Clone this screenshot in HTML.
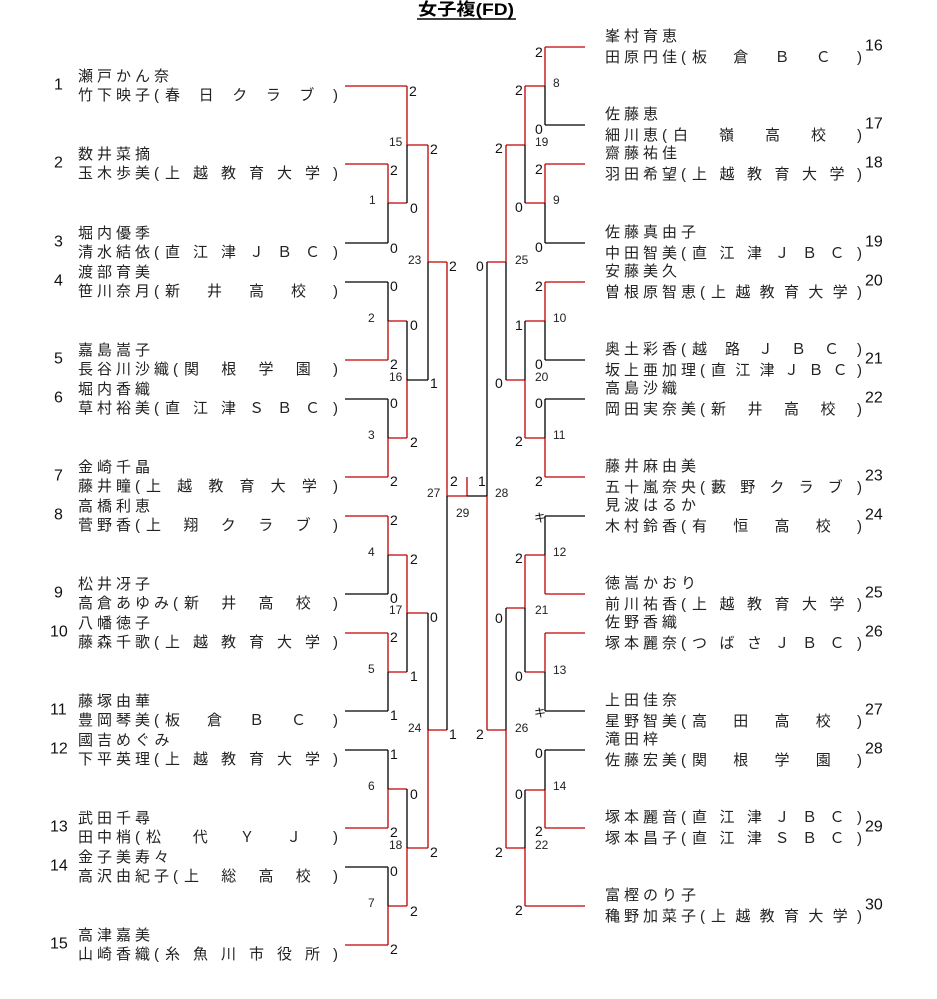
<!DOCTYPE html>
<html><head><meta charset="utf-8"><style>
html,body{margin:0;padding:0;background:#fff;}
svg{display:block;}
.n{font-family:"Liberation Sans","Noto Sans CJK JP",sans-serif;font-size:15px;fill:#222;letter-spacing:4px;}
.c{font-family:"Liberation Sans","Noto Sans CJK JP",sans-serif;font-size:15px;fill:#222;}
.s{font-family:"Liberation Sans","Noto Sans CJK JP",sans-serif;font-size:14px;fill:#111;dominant-baseline:central;}
.m{font-family:"Liberation Sans",sans-serif;font-size:12px;fill:#222;dominant-baseline:central;}
.p{font-family:"Liberation Sans",sans-serif;font-size:16px;fill:#111;dominant-baseline:central;}
.r{stroke:#c00000;stroke-width:1.3;fill:none;}
.k{stroke:#000;stroke-width:1.3;fill:none;}
</style></head><body>
<svg width="937" height="999" viewBox="0 0 937 999" xmlns="http://www.w3.org/2000/svg">
<text x="418" y="15" textLength="96" lengthAdjust="spacingAndGlyphs" style="font-family:'Liberation Sans','Noto Sans CJK JP',sans-serif;font-size:17px;font-weight:bold;fill:#000">女子複(FD)</text>
<line x1="417" y1="19" x2="516" y2="19" stroke="#000" stroke-width="1.5"/>

<!-- LEFT lines -->
<path class="r" d="M345 86H407M345 164H388M345 360H388M345 477H388M345 516H388M345 633H388M345 828H388M345 945H388"/>
<path class="k" d="M345 243H388M345 282H388M345 399H388M345 594H388M345 711H388M345 750H388M345 867H388"/>
<path class="r" d="M388 164V203M388 203H407M407 86V145M407 145H428M388 321V360M388 321H407M388 438V477M388 438H407M407 380V438M428 145V262M428 262H447
M388 516V555M388 555H407M388 633V672M388 672H407M407 555V613M407 613H428M388 789V828M388 789H407M388 906V945M388 906H407M407 848V906M407 848H428M428 730V848M428 730H447
M447 262V496M447 496H467M467 477V496"/>
<path class="k" d="M388 203V243M407 145V203M388 282V321M388 399V438M407 321V380M407 380H428M428 262V380
M388 555V594M388 672V711M407 613V672M388 750V789M388 867V906M407 789V848M428 613V730M447 496V730M467 496H487"/>

<!-- RIGHT lines -->
<path class="r" d="M545 47H585M545 164H585M545 282H585M545 477H585M545 594H585M545 633H585M545 828H585M525 906H585"/>
<path class="k" d="M545 125H585M545 243H585M545 360H585M545 399H585M545 516H585M545 711H585M545 750H585"/>
<path class="r" d="M545 47V86M525 86H545M545 164V203M525 203H545M525 86V145M506 145H525M545 282V321M525 321H545M545 438V477M525 438H545M525 380V438M506 380H525M506 145V262M487 262H506
M545 555V594M525 555H545M545 633V672M525 672H545M525 555V608M506 608H525M545 790V828M525 790H545M525 848V906M506 848H525M506 730V848M487 730H506M487 496V730"/>
<path class="k" d="M545 86V125M545 203V243M525 145V203M545 321V360M545 399V438M525 321V380M506 262V380
M545 516V555M545 672V711M525 608V672M545 750V790M525 790V848M506 608V730M487 262V496"/>

<!-- LEFT names -->
<g>
<text class="p" x="54" y="85">1</text>
<text class="n" x="78" y="81">瀬戸かん奈</text><text class="n" x="78" y="100">竹下映子(</text><text class="c" x="165" y="100" textLength="173" lengthAdjust="spacing">春日クラブ)</text>
<text class="p" x="54" y="163">2</text>
<text class="n" x="78" y="159">数井菜摘</text><text class="n" x="78" y="178">玉木歩美(</text><text class="c" x="165" y="178" textLength="173" lengthAdjust="spacing">上越教育大学)</text>
<text class="p" x="54" y="242">3</text>
<text class="n" x="78" y="238">堀内優季</text><text class="n" x="78" y="257">清水結依(</text><text class="c" x="165" y="257" textLength="173" lengthAdjust="spacing">直江津ＪＢＣ)</text>
<text class="p" x="54" y="281">4</text>
<text class="n" x="78" y="277">渡部育美</text><text class="n" x="78" y="296">笹川奈月(</text><text class="c" x="165" y="296" textLength="173" lengthAdjust="spacing">新井高校)</text>
<text class="p" x="54" y="359">5</text>
<text class="n" x="78" y="355">嘉島嵩子</text><text class="n" x="78" y="374">長谷川沙織(</text><text class="c" x="184" y="374" textLength="154" lengthAdjust="spacing">関根学園)</text>
<text class="p" x="54" y="398">6</text>
<text class="n" x="78" y="394">堀内香織</text><text class="n" x="78" y="413">草村裕美(</text><text class="c" x="165" y="413" textLength="173" lengthAdjust="spacing">直江津ＳＢＣ)</text>
<text class="p" x="54" y="476">7</text>
<text class="n" x="78" y="472">金崎千晶</text><text class="n" x="78" y="491">藤井瞳(</text><text class="c" x="146" y="491" textLength="192" lengthAdjust="spacing">上越教育大学)</text>
<text class="p" x="54" y="515">8</text>
<text class="n" x="78" y="511">高橋利恵</text><text class="n" x="78" y="530">菅野香(</text><text class="c" x="146" y="530" textLength="192" lengthAdjust="spacing">上翔クラブ)</text>
<text class="p" x="54" y="593">9</text>
<text class="n" x="78" y="589">松井冴子</text><text class="n" x="78" y="608">高倉あゆみ(</text><text class="c" x="184" y="608" textLength="154" lengthAdjust="spacing">新井高校)</text>
<text class="p" x="50" y="632">10</text>
<text class="n" x="78" y="628">八幡徳子</text><text class="n" x="78" y="647">藤森千歌(</text><text class="c" x="165" y="647" textLength="173" lengthAdjust="spacing">上越教育大学)</text>
<text class="p" x="50" y="710">11</text>
<text class="n" x="78" y="706">藤塚由華</text><text class="n" x="78" y="725">豊岡琴美(</text><text class="c" x="165" y="725" textLength="173" lengthAdjust="spacing">板倉ＢＣ)</text>
<text class="p" x="50" y="749">12</text>
<text class="n" x="78" y="745">國吉めぐみ</text><text class="n" x="78" y="764">下平英理(</text><text class="c" x="165" y="764" textLength="173" lengthAdjust="spacing">上越教育大学)</text>
<text class="p" x="50" y="827">13</text>
<text class="n" x="78" y="823">武田千尋</text><text class="n" x="78" y="842">田中梢(</text><text class="c" x="146" y="842" textLength="192" lengthAdjust="spacing">松代ＹＪ)</text>
<text class="p" x="50" y="866">14</text>
<text class="n" x="78" y="862">金子美寿々</text><text class="n" x="78" y="881">高沢由紀子(</text><text class="c" x="184" y="881" textLength="154" lengthAdjust="spacing">上総高校)</text>
<text class="p" x="50" y="944">15</text>
<text class="n" x="78" y="940">高津嘉美</text><text class="n" x="78" y="959">山崎香織(</text><text class="c" x="165" y="959" textLength="173" lengthAdjust="spacing">糸魚川市役所)</text>
</g>

<!-- RIGHT names -->
<g>
<text class="n" x="605" y="41">峯村育恵</text><text class="n" x="605" y="62">田原円佳(</text><text class="c" x="692" y="62" textLength="170" lengthAdjust="spacing">板倉ＢＣ)</text><text class="p" x="865" y="46">16</text>
<text class="n" x="605" y="119">佐藤恵</text><text class="n" x="605" y="140">細川恵(</text><text class="c" x="673" y="140" textLength="189" lengthAdjust="spacing">白嶺高校)</text><text class="p" x="865" y="124">17</text>
<text class="n" x="605" y="158">齋藤祐佳</text><text class="n" x="605" y="179">羽田希望(</text><text class="c" x="692" y="179" textLength="170" lengthAdjust="spacing">上越教育大学)</text><text class="p" x="865" y="163">18</text>
<text class="n" x="605" y="237">佐藤真由子</text><text class="n" x="605" y="258">中田智美(</text><text class="c" x="692" y="258" textLength="170" lengthAdjust="spacing">直江津ＪＢＣ)</text><text class="p" x="865" y="242">19</text>
<text class="n" x="605" y="276">安藤美久</text><text class="n" x="605" y="297">曽根原智恵(</text><text class="c" x="711" y="297" textLength="151" lengthAdjust="spacing">上越教育大学)</text><text class="p" x="865" y="281">20</text>
<text class="n" x="605" y="354">奥土彩香(</text><text class="c" x="692" y="354" textLength="170" lengthAdjust="spacing">越路ＪＢＣ)</text><text class="n" x="605" y="375">坂上亜加理(</text><text class="c" x="711" y="375" textLength="151" lengthAdjust="spacing">直江津ＪＢＣ)</text><text class="p" x="865" y="359">21</text>
<text class="n" x="605" y="393">高島沙織</text><text class="n" x="605" y="414">岡田実奈美(</text><text class="c" x="711" y="414" textLength="151" lengthAdjust="spacing">新井高校)</text><text class="p" x="865" y="398">22</text>
<text class="n" x="605" y="471">藤井麻由美</text><text class="n" x="605" y="492">五十嵐奈央(</text><text class="c" x="711" y="492" textLength="151" lengthAdjust="spacing">藪野クラブ)</text><text class="p" x="865" y="476">23</text>
<text class="n" x="605" y="510">見波はるか</text><text class="n" x="605" y="531">木村鈴香(</text><text class="c" x="692" y="531" textLength="170" lengthAdjust="spacing">有恒高校)</text><text class="p" x="865" y="515">24</text>
<text class="n" x="605" y="588">徳嵩かおり</text><text class="n" x="605" y="609">前川祐香(</text><text class="c" x="692" y="609" textLength="170" lengthAdjust="spacing">上越教育大学)</text><text class="p" x="865" y="593">25</text>
<text class="n" x="605" y="627">佐野香織</text><text class="n" x="605" y="648">塚本麗奈(</text><text class="c" x="692" y="648" textLength="170" lengthAdjust="spacing">つばさＪＢＣ)</text><text class="p" x="865" y="632">26</text>
<text class="n" x="605" y="705">上田佳奈</text><text class="n" x="605" y="726">星野智美(</text><text class="c" x="692" y="726" textLength="170" lengthAdjust="spacing">高田高校)</text><text class="p" x="865" y="710">27</text>
<text class="n" x="605" y="744">滝田梓</text><text class="n" x="605" y="765">佐藤宏美(</text><text class="c" x="692" y="765" textLength="170" lengthAdjust="spacing">関根学園)</text><text class="p" x="865" y="749">28</text>
<text class="n" x="605" y="822">塚本麗音(</text><text class="c" x="692" y="822" textLength="170" lengthAdjust="spacing">直江津ＪＢＣ)</text><text class="n" x="605" y="843">塚本昌子(</text><text class="c" x="692" y="843" textLength="170" lengthAdjust="spacing">直江津ＳＢＣ)</text><text class="p" x="865" y="827">29</text>
<text class="n" x="605" y="900">富樫のり子</text><text class="n" x="605" y="921">穐野加菜子(</text><text class="c" x="711" y="921" textLength="151" lengthAdjust="spacing">上越教育大学)</text><text class="p" x="865" y="905">30</text>
</g>

<!-- LEFT scores / match numbers -->
<g>
<text class="s" x="409" y="91">2</text>
<text class="m" x="389" y="142">15</text>
<text class="s" x="430" y="149">2</text>
<text class="s" x="390" y="170">2</text>
<text class="m" x="369" y="200">1</text>
<text class="s" x="410" y="208">0</text>
<text class="s" x="390" y="248">0</text>
<text class="m" x="408" y="260">23</text>
<text class="s" x="449" y="266">2</text>
<text class="s" x="390" y="286">0</text>
<text class="m" x="368" y="318">2</text>
<text class="s" x="410" y="325">0</text>
<text class="s" x="390" y="364">2</text>
<text class="m" x="389" y="377">16</text>
<text class="s" x="430" y="383">1</text>
<text class="s" x="390" y="403">0</text>
<text class="m" x="368" y="435">3</text>
<text class="s" x="410" y="442">2</text>
<text class="s" x="390" y="481">2</text>
<text class="m" x="427" y="493">27</text>
<text class="s" x="450" y="481">2</text>
<text class="m" x="456" y="513">29</text>
<text class="s" x="478" y="481">1</text>
<text class="m" x="495" y="493">28</text>
<text class="s" x="390" y="520">2</text>
<text class="m" x="368" y="552">4</text>
<text class="s" x="410" y="559">2</text>
<text class="s" x="390" y="598">0</text>
<text class="m" x="389" y="610">17</text>
<text class="s" x="430" y="617">0</text>
<text class="s" x="390" y="637">2</text>
<text class="m" x="368" y="669">5</text>
<text class="s" x="410" y="676">1</text>
<text class="s" x="390" y="715">1</text>
<text class="m" x="408" y="728">24</text>
<text class="s" x="449" y="734">1</text>
<text class="s" x="390" y="754">1</text>
<text class="m" x="368" y="786">6</text>
<text class="s" x="410" y="794">0</text>
<text class="s" x="390" y="832">2</text>
<text class="m" x="389" y="845">18</text>
<text class="s" x="430" y="852">2</text>
<text class="s" x="390" y="871">0</text>
<text class="m" x="368" y="903">7</text>
<text class="s" x="410" y="911">2</text>
<text class="s" x="390" y="949">2</text>
</g>

<!-- RIGHT scores / match numbers -->
<g>
<text class="s" x="535" y="52">2</text>
<text class="m" x="553" y="83">8</text>
<text class="s" x="515" y="90">2</text>
<text class="s" x="535" y="129">0</text>
<text class="m" x="535" y="142">19</text>
<text class="s" x="495" y="148">2</text>
<text class="s" x="535" y="169">2</text>
<text class="m" x="553" y="200">9</text>
<text class="s" x="515" y="207">0</text>
<text class="s" x="535" y="247">0</text>
<text class="m" x="515" y="260">25</text>
<text class="s" x="476" y="266">0</text>
<text class="s" x="535" y="286">2</text>
<text class="m" x="553" y="318">10</text>
<text class="s" x="515" y="325">1</text>
<text class="s" x="535" y="364">0</text>
<text class="m" x="535" y="377">20</text>
<text class="s" x="495" y="383">0</text>
<text class="s" x="535" y="403">0</text>
<text class="m" x="553" y="435">11</text>
<text class="s" x="515" y="441">2</text>
<text class="s" x="535" y="481">2</text>
<text class="s" x="534" y="518" style="font-size:12px">キ</text>
<text class="m" x="553" y="552">12</text>
<text class="s" x="515" y="558">2</text>
<text class="m" x="535" y="610">21</text>
<text class="s" x="495" y="618">0</text>
<text class="m" x="553" y="670">13</text>
<text class="s" x="515" y="676">0</text>
<text class="s" x="534" y="713" style="font-size:12px">キ</text>
<text class="m" x="515" y="728">26</text>
<text class="s" x="476" y="734">2</text>
<text class="s" x="535" y="753">0</text>
<text class="m" x="553" y="786">14</text>
<text class="s" x="515" y="794">0</text>
<text class="s" x="535" y="831">2</text>
<text class="m" x="535" y="845">22</text>
<text class="s" x="495" y="852">2</text>
<text class="s" x="515" y="910">2</text>
</g>
</svg>
</body></html>
